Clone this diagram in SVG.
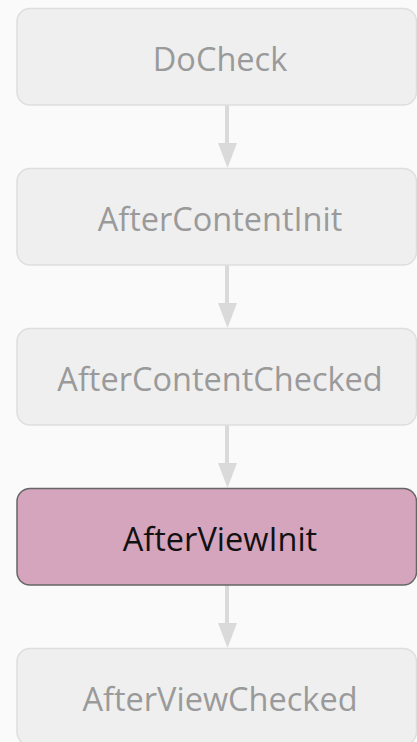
<svg xmlns="http://www.w3.org/2000/svg" width="417" height="742" viewBox="0 0 417 742">
  <style>
    .box { fill: #efefef; stroke: #dedede; stroke-width: 1.5; }
    .box-active { fill: #d5a4bd; stroke: #666666; stroke-width: 1.5; }
    .label { font-family: "Open Sans", "Noto Sans", sans-serif; font-size: 32.5px; fill: #9a9a9a; text-anchor: middle; }
    .label-active { fill: #111111; }
    .edge { stroke: #dadada; stroke-width: 4; fill: none; }
    .head { fill: #dadada; }
  </style>
  <rect width="417" height="742" fill="#fafafa"/>

  <g id="connectors">
    <path class="edge" d="M227,105 V143" />
    <polygon class="head" points="218,143 237,143 227.5,168"/>
    <path class="edge" d="M227,265 V303" />
    <polygon class="head" points="218,303 237,303 227.5,328"/>
    <path class="edge" d="M227,425 V463" />
    <polygon class="head" points="218,463 237,463 227.5,488"/>
    <path class="edge" d="M227,585 V623" />
    <polygon class="head" points="218,623 237,623 227.5,648"/>
  </g>

  <g id="docheck">
    <rect class="box" x="17" y="8.5" width="399.5" height="96.5" rx="13"/>
    <text class="label" x="220" y="71">DoCheck</text>
  </g>
  <g id="after-content-init">
    <rect class="box" x="17" y="168.5" width="399.5" height="96.5" rx="13"/>
    <text class="label" x="220" y="231">AfterContentInit</text>
  </g>
  <g id="after-content-checked">
    <rect class="box" x="17" y="328.5" width="399.5" height="96.5" rx="13"/>
    <text class="label" x="220" y="391">AfterContentChecked</text>
  </g>
  <g id="after-view-init">
    <rect class="box-active" x="17" y="488.5" width="399.5" height="96.5" rx="13"/>
    <text class="label label-active" x="220" y="551">AfterViewInit</text>
  </g>
  <g id="after-view-checked">
    <rect class="box" x="17" y="648.5" width="399.5" height="96.5" rx="13"/>
    <text class="label" x="220" y="711">AfterViewChecked</text>
  </g>
</svg>
